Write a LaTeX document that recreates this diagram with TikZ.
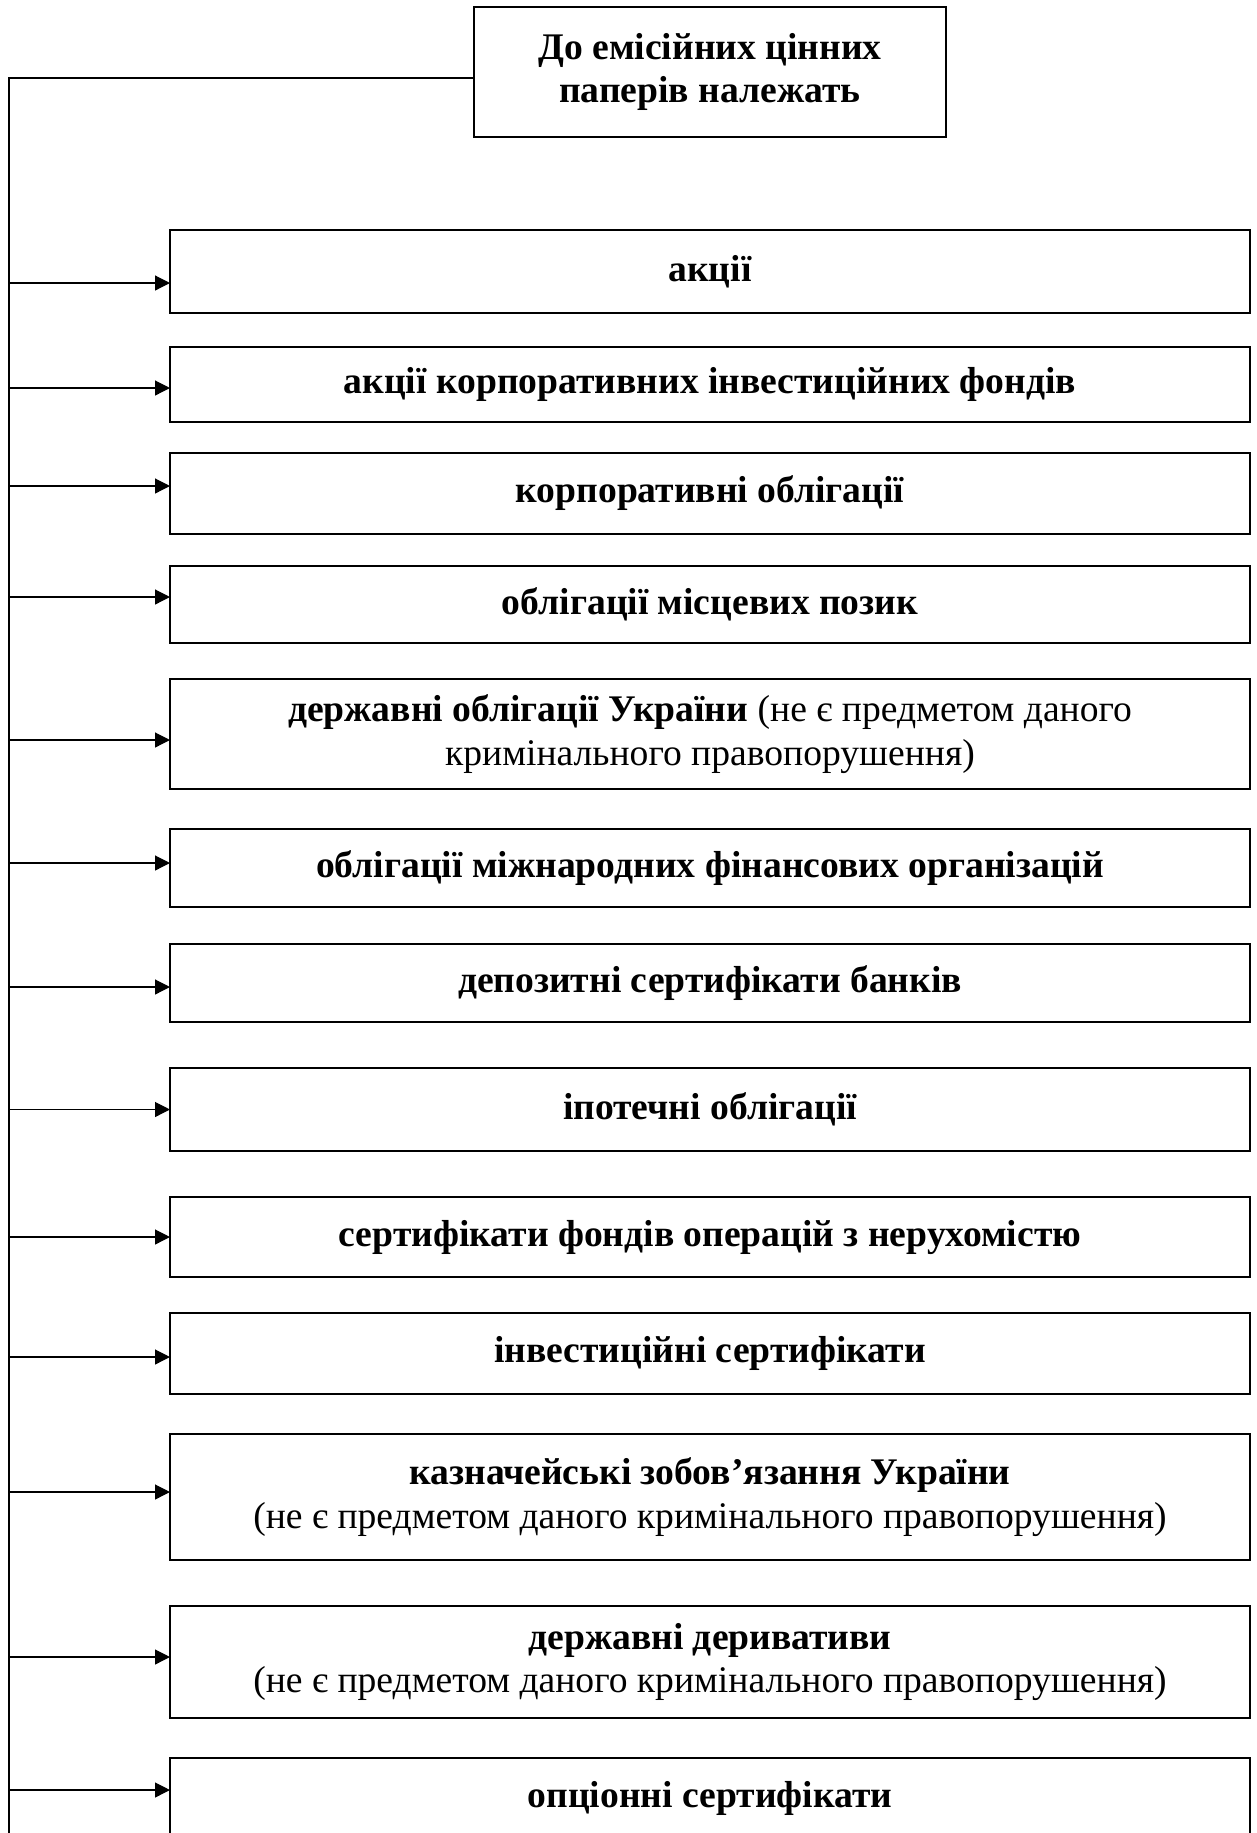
\documentclass[tikz,border=0pt]{standalone}
\usepackage{fontspec}
\setmainfont{Liberation Serif}
\usetikzlibrary{arrows.meta, positioning}
\tikzstyle{headbox} = [rectangle, draw=black, line width=1.3pt, outer sep=0pt, minimum width=236pt, minimum height=65pt, align=center, font=\fontsize{18.8}{21.6}\selectfont\bfseries]
\tikzstyle{itembox} = [rectangle, draw=black, line width=1.3pt, outer sep=0pt, minimum width=540pt, inner sep=0pt, align=center, font=\fontsize{18.8}{21.6}\selectfont\bfseries]
\tikzstyle{branch} = [line width=0.6pt, -{Triangle[length=7.5pt, width=7.5pt]}]

\begin{document}
\begin{tikzpicture}[x=0.5pt, y=-0.5pt, node distance=17pt]
    \useasboundingbox (0,0) rectangle (1257,1833);
    \node (head) [headbox] at (710,72) {До емісійних цінних\\паперів належать};
    \node (b1) [itembox, minimum height=41.5pt, below=46.5pt of head] {акції};
    \node (b2) [itembox, minimum height=37.5pt, below=of b1] {акції корпоративних інвестиційних фондів};
    \node (b3) [itembox, minimum height=40.5pt, below=15.5pt of b2] {корпоративні облігації};
    \node (b4) [itembox, minimum height=38.5pt, below=16pt of b3] {облігації місцевих позик};
    \node (b5) [itembox, minimum height=55pt, below=18pt of b4] {державні облігації України {\mdseries (не є предметом даного}\\{\mdseries кримінального правопорушення)}};
    \node (b6) [itembox, minimum height=39pt, below=20pt of b5] {облігації міжнародних фінансових організацій};
    \node (b7) [itembox, minimum height=39pt, below=18.5pt of b6] {депозитні сертифікати банків};
    \node (b8) [itembox, minimum height=41.5pt, below=23pt of b7] {іпотечні облігації};
    \node (b9) [itembox, minimum height=40pt, below=23pt of b8] {сертифікати фондів операцій з нерухомістю};
    \node (b10) [itembox, minimum height=40.5pt, below=18pt of b9] {інвестиційні сертифікати};
    \node (b11) [itembox, minimum height=63pt, below=20pt of b10] {казначейські зобов’язання України\\{\mdseries (не є предметом даного кримінального правопорушення)}};
    \node (b12) [itembox, minimum height=56pt, below=23pt of b11] {державні деривативи\\{\mdseries (не є предметом даного кримінального правопорушення)}};
    \node (b13) [itembox, minimum height=40pt, below=20pt of b12] {опціонні сертифікати};

    % left trunk
    \coordinate (top) at (9,78);
    \coordinate (foot) at (9,1833);
    \draw [line width=0.6pt] ([yshift=-3pt]head.west) -- (top) -- (foot);

    \draw [branch] ([yshift=-5.75pt]top |- b1.west) -- ([yshift=-5.75pt]b1.west);
    \draw [branch] ([yshift=-1.75pt]top |- b2.west) -- ([yshift=-1.75pt]b2.west);
    \draw [branch] ([yshift=3.75pt]top |- b3.west) -- ([yshift=3.75pt]b3.west);
    \draw [branch] ([yshift=3.75pt]top |- b4.west) -- ([yshift=3.75pt]b4.west);
    \draw [branch] ([yshift=-3pt]top |- b5.west) -- ([yshift=-3pt]b5.west);
    \draw [branch] ([yshift=2.5pt]top |- b6.west) -- ([yshift=2.5pt]b6.west);
    \draw [branch] ([yshift=-2pt]top |- b7.west) -- ([yshift=-2pt]b7.west);
    \draw [branch] (top |- b8.west) -- (b8.west);
    \draw [branch] (top |- b9.west) -- (b9.west);
    \draw [branch] ([yshift=-1.75pt]top |- b10.west) -- ([yshift=-1.75pt]b10.west);
    \draw [branch] ([yshift=2.5pt]top |- b11.west) -- ([yshift=2.5pt]b11.west);
    \draw [branch] ([yshift=2.5pt]top |- b12.west) -- ([yshift=2.5pt]b12.west);
    \draw [branch] ([yshift=4pt]top |- b13.west) -- ([yshift=4pt]b13.west);
\end{tikzpicture}
\end{document}
